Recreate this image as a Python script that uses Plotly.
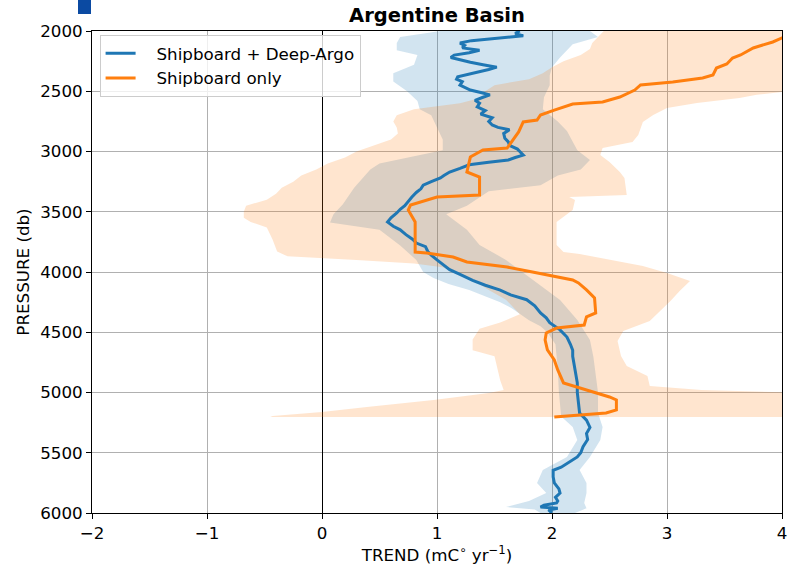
import plotly.graph_objects as go

# ---------------- data ----------------
# Shipboard + Deep-Argo : mean trend (mC/yr) vs pressure (db)
blue_p = [2000, 2020, 2040, 2060, 2080, 2100, 2120, 2140, 2160, 2180, 2200, 2220, 2240, 2260, 2280,
          2300, 2320, 2340, 2360, 2380, 2400, 2420, 2450, 2470, 2490, 2510, 2530, 2550, 2575, 2600,
          2630, 2660, 2690, 2720, 2750, 2780, 2800, 2820, 2850, 2890, 2920, 2950, 2980, 3000, 3030,
          3050, 3070, 3090, 3110, 3140, 3170, 3200, 3220, 3250, 3280, 3310, 3340, 3380, 3420, 3450,
          3480, 3510, 3550, 3585, 3620, 3650, 3690, 3730, 3760, 3790, 3830, 3860, 3900, 3940, 3980,
          4020, 4070, 4110, 4150, 4190, 4230, 4280, 4340, 4380, 4420, 4480, 4540, 4600, 4650, 4700,
          4800, 4920, 5000, 5100, 5170, 5230, 5290, 5340, 5390, 5450, 5500, 5535, 5580, 5620, 5645,
          5700, 5750, 5800, 5835, 5870, 5900, 5917, 5935, 5950, 5960, 5975, 6000]
blue_t = [1.72, 1.68, 1.75, 1.55, 1.30, 1.20, 1.24, 1.22, 1.37, 1.28, 1.15, 1.12, 1.20, 1.29, 1.40,
          1.52, 1.45, 1.36, 1.25, 1.18, 1.17, 1.22, 1.20, 1.25, 1.29, 1.38, 1.46, 1.40, 1.33, 1.37,
          1.35, 1.42, 1.38, 1.48, 1.45, 1.48, 1.53, 1.63, 1.58, 1.59, 1.62, 1.63, 1.70, 1.72, 1.75,
          1.68, 1.62, 1.45, 1.28, 1.20, 1.11, 1.06, 1.03, 0.95, 0.88, 0.86, 0.82, 0.78, 0.75, 0.72,
          0.68, 0.65, 0.60, 0.57, 0.62, 0.68, 0.73, 0.79, 0.82, 0.90, 0.92, 0.95, 1.00, 1.05, 1.11,
          1.20, 1.31, 1.42, 1.55, 1.64, 1.78, 1.85, 1.90, 1.95, 1.98, 2.07, 2.13, 2.16, 2.18, 2.18,
          2.20, 2.22, 2.22, 2.23, 2.24, 2.30, 2.33, 2.30, 2.31, 2.27, 2.25, 2.22, 2.15, 2.08, 2.01,
          2.01, 2.02, 2.06, 2.07, 2.03, 2.05, 2.04, 1.93, 1.90, 2.05, 1.97, 2.00]

# Shipboard + Deep-Argo : confidence band
blue_lo_p = [2000, 2050, 2100, 2160, 2200, 2280, 2350, 2420, 2500, 2580, 2650, 2700, 2800, 2900,
             2990, 3040, 3100, 3150, 3300, 3440, 3520, 3590, 3650, 3780, 3900, 3950, 4000, 4050,
             4100, 4150, 4200, 4250, 4300, 4350, 4400, 4450, 4500, 4600, 4700, 4800, 5000, 5200,
             5286, 5394, 5535, 5643, 5751, 5834, 5900, 5950, 5970, 6000]
blue_lo = [1.03, 0.68, 0.65, 0.65, 0.83, 0.80, 0.62, 0.62, 0.74, 0.83, 0.85, 0.95, 1.00, 1.05,
           1.05, 0.80, 0.50, 0.42, 0.28, 0.18, 0.10, 0.07, 0.50, 0.68, 0.82, 0.85, 0.88, 0.97,
           1.10, 1.28, 1.42, 1.55, 1.65, 1.72, 1.80, 1.90, 1.96, 2.03, 2.04, 2.05, 2.06, 2.08,
           2.18, 2.22, 2.13, 1.92, 1.87, 1.95, 1.80, 1.60, 1.85, 1.90]
blue_hi_p = [2000, 2050, 2110, 2220, 2300, 2370, 2450, 2550, 2650, 2750, 2830, 2990, 3070, 3150,
             3200, 3280, 3330, 3450, 3520, 3650, 3775, 3900, 4066, 4232, 4398, 4564, 4705, 5000,
             5170, 5286, 5394, 5535, 5643, 5751, 5834, 5917, 5960, 6000]
blue_hi = [2.33, 2.40, 2.18, 2.07, 2.00, 1.98, 1.98, 1.93, 1.92, 2.05, 2.13, 2.22, 2.33, 2.25,
           2.05, 1.90, 1.45, 1.26, 1.08, 1.26, 1.37, 1.60, 1.83, 2.07, 2.22, 2.33, 2.36, 2.40,
           2.40, 2.44, 2.42, 2.33, 2.24, 2.30, 2.30, 2.28, 2.30, 2.20]

# Shipboard only : mean trend
orange_p = [2045, 2058, 2091, 2141, 2199, 2224, 2274, 2307, 2365, 2390, 2423, 2448, 2490, 2548,
            2589, 2606, 2656, 2697, 2739, 2755, 2838, 2905, 2971, 2988, 3046, 3170, 3212, 3361,
            3378, 3444, 3485, 3585, 3834, 3842, 3876, 3917, 3959, 4000, 4041, 4066, 4091, 4149,
            4216, 4340, 4373, 4440, 4465, 4506, 4564, 4647, 4730, 4813, 4921, 4979, 5037, 5062,
            5145, 5170, 5187, 5203]
orange_t = [4.10, 4.00, 3.92, 3.75, 3.64, 3.57, 3.52, 3.43, 3.40, 3.31, 3.05, 2.77, 2.72, 2.59,
            2.44, 2.18, 2.02, 1.90, 1.87, 1.75, 1.71, 1.66, 1.61, 1.40, 1.29, 1.26, 1.37, 1.37,
            1.00, 0.77, 0.75, 0.81, 0.81, 0.91, 1.14, 1.26, 1.61, 1.83, 2.04, 2.18, 2.23, 2.30,
            2.37, 2.38, 2.30, 2.28, 2.04, 1.95, 1.94, 1.96, 2.02, 2.05, 2.10, 2.30, 2.50, 2.56,
            2.56, 2.47, 2.24, 2.02]

# Shipboard only : confidence band
orange_lo_p = [2000, 2050, 2100, 2150, 2200, 2250, 2300, 2350, 2400, 2450, 2500, 2550, 2600, 2650,
               2700, 2750, 2800, 2850, 2900, 2950, 3000, 3050, 3100, 3150, 3200, 3250, 3300, 3350,
               3400, 3450, 3500, 3550, 3585, 3630, 3730, 3830, 3870, 3900, 3930, 3960, 4000, 4066,
               4150, 4230, 4350, 4420, 4470, 4560, 4650, 4700, 4900, 4980, 5004, 5062, 5120, 5162,
               5195, 5203]
orange_lo = [2.45, 2.40, 2.35, 2.33, 2.25, 2.10, 2.00, 1.92, 1.80, 1.50, 1.42, 1.40, 1.20, 0.80,
             0.65, 0.62, 0.65, 0.66, 0.60, 0.45, 0.30, 0.20, 0.05, -0.05, -0.18, -0.25, -0.35, -0.40,
             -0.48, -0.66, -0.68, -0.68, -0.62, -0.48, -0.43, -0.39, -0.30, 0.30, 0.80, 1.05, 1.15, 1.31,
             1.45, 1.60, 1.72, 1.55, 1.37, 1.31, 1.31, 1.50, 1.55, 1.58, 1.45, 0.97, 0.39, 0.00,
             -0.43, -0.45]
orange_hi_p = [2000, 2490, 2506, 2530, 2556, 2598, 2639, 2697, 2755, 2863, 2921, 2971, 3029, 3087,
               3170, 3220, 3361, 3378, 3402, 3485, 3585, 3776, 3834, 3851, 3950, 4008, 4075, 4158,
               4241, 4324, 4407, 4490, 4573, 4697, 4780, 4863, 4946, 4979, 5012, 5203]
orange_hi = [4.50, 4.50, 4.00, 3.78, 3.63, 3.26, 3.00, 2.88, 2.79, 2.75, 2.70, 2.44, 2.42, 2.50,
             2.59, 2.63, 2.65, 2.15, 2.20, 2.18, 2.04, 2.04, 2.10, 2.24, 2.79, 3.00, 3.20, 3.11,
             3.03, 2.94, 2.85, 2.62, 2.57, 2.60, 2.65, 2.83, 2.85, 3.30, 4.50, 4.50]

x_ticks = [-2, -1, 0, 1, 2, 3, 4]
y_ticks = [2000, 2500, 3000, 3500, 4000, 4500, 5000, 5500, 6000]
series_names = ["Shipboard + Deep-Argo", "Shipboard only"]

BLUE = "#1f77b4"
ORANGE = "#ff7f0e"
FONT = "DejaVu Sans"
FS = 16.7
PAD = "\u00a0\u00a0\u00a0"

fig = go.Figure()

# bands (filled polygons)
fig.add_trace(go.Scatter(
    x=blue_lo + blue_hi[::-1], y=blue_lo_p + blue_hi_p[::-1],
    fill="toself", fillcolor="rgba(31,119,180,0.2)", line=dict(width=0),
    mode="lines", showlegend=False, hoverinfo="skip"))
fig.add_trace(go.Scatter(
    x=orange_lo + orange_hi[::-1], y=orange_lo_p + orange_hi_p[::-1],
    fill="toself", fillcolor="rgba(255,127,14,0.2)", line=dict(width=0),
    mode="lines", showlegend=False, hoverinfo="skip"))

# mean lines
fig.add_trace(go.Scatter(x=blue_t, y=blue_p, mode="lines",
                         line=dict(color=BLUE, width=3), name=PAD + series_names[0]))
fig.add_trace(go.Scatter(x=orange_t, y=orange_p, mode="lines",
                         line=dict(color=ORANGE, width=3), name=PAD + series_names[1]))

L, R, T, B = 92, 10, 31, 53
W, H = 792, 566
pw, ph = W - L - R, H - T - B

fig.update_layout(
    width=W, height=H,
    margin=dict(l=L, r=R, t=T, b=B, pad=0, autoexpand=False),
    paper_bgcolor="white", plot_bgcolor="white",
    font=dict(family=FONT, size=FS, color="black"),
    title=dict(text="<b>Argentine Basin</b>", x=(L + pw / 2) / W, xanchor="center",
               y=1 - 15 / H, yanchor="middle", font=dict(size=19.5, family=FONT)),
    legend=dict(x=0.011, y=0.992, xanchor="left", yanchor="top",
                bgcolor="rgba(255,255,255,0.8)", bordercolor="#cccccc", borderwidth=1,
                font=dict(size=FS, family=FONT), tracegroupgap=0),
    showlegend=True,
)

fig.update_xaxes(range=[-2, 4], tickvals=x_ticks, automargin=False,
                 ticktext=[("\u2212" + str(-v)) if v < 0 else str(v) for v in x_ticks],
                 showgrid=True, gridcolor="#b0b0b0", gridwidth=1,
                 zeroline=True, zerolinecolor="black", zerolinewidth=1.3,
                 showline=True, mirror=True, linecolor="black", linewidth=1,
                 ticks="outside", ticklen=5, tickcolor="black",
                 tickfont=dict(size=FS, family=FONT),
                 title=dict(text="TREND (mC<sup>\u2218</sup> yr<sup>\u22121</sup>)",
                            font=dict(size=FS, family=FONT), standoff=6))
fig.update_yaxes(range=[6000, 2000], tickvals=y_ticks, automargin=False,
                 showgrid=True, gridcolor="#b0b0b0", gridwidth=1, zeroline=False,
                 showline=True, mirror=True, linecolor="black", linewidth=1,
                 ticks="outside", ticklen=5, tickcolor="black",
                 tickfont=dict(size=FS, family=FONT),
                 title=dict(text="PRESSURE (db)", font=dict(size=FS, family=FONT), standoff=6))

# small dark-blue square in top-left corner
fig.add_shape(type="rect", xref="paper", yref="paper",
              x0=(78 - L) / pw, x1=(91 - L) / pw,
              y0=(H - B - 14) / ph, y1=(H - B - 0) / ph,
              fillcolor="#0b4aa2", line=dict(width=0), layer="above")

fig.write_html("out.html", config={"displayModeBar": False},
               post_script="document.body.style.margin='0';document.body.style.overflow='hidden';")
